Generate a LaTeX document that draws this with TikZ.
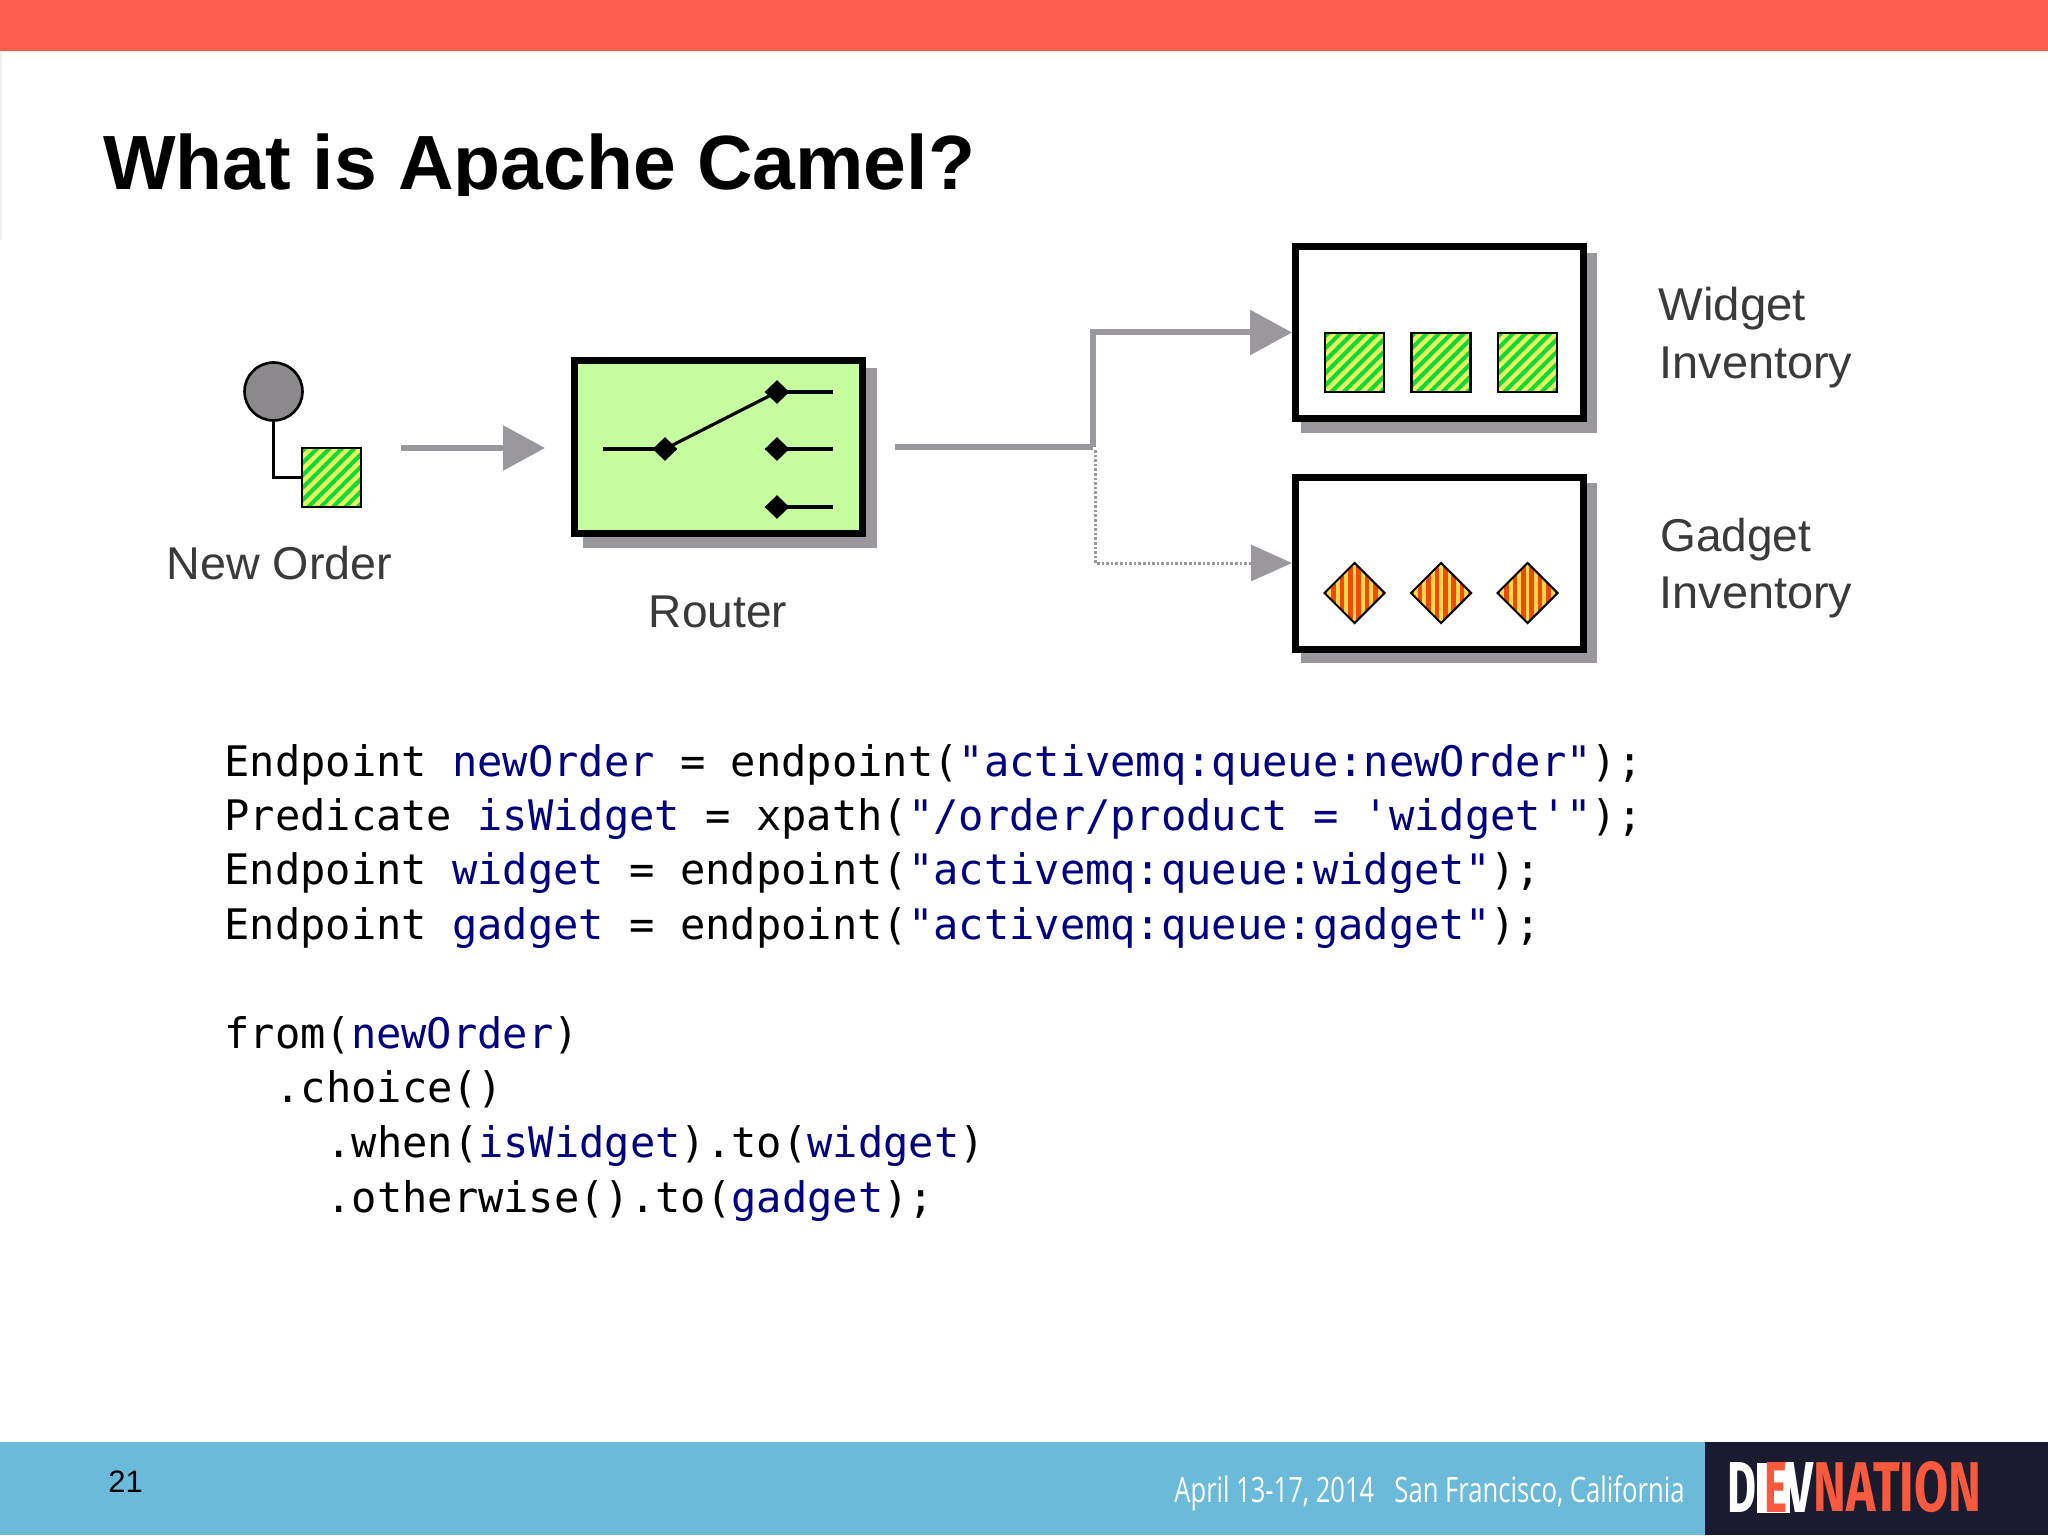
\documentclass[tikz,border=0pt]{standalone}
\usepackage{fontspec}
\usetikzlibrary{arrows.meta,shapes.geometric,calc}
\setmainfont{Liberation Sans}
\newfontfamily\codefont{DejaVu Sans Mono}
\newfontfamily\footfont{Open Sans}
\newfontfamily\logofont{Fira Sans}[UprightFont=* Bold]
\definecolor{topred}{HTML}{FE5E4D}
\definecolor{footblue}{HTML}{6CBAD9}
\definecolor{footdark}{HTML}{1B1B30}
\definecolor{logored}{HTML}{F9593C}
\definecolor{flowgray}{HTML}{9A989C}
\definecolor{routergreen}{HTML}{C6FE9F}
\definecolor{codeblue}{HTML}{000080}
\definecolor{stripegreen}{HTML}{10D83C}
\definecolor{stripeyellow}{HTML}{E4F85C}
\definecolor{stripered}{HTML}{EE4A08}
\definecolor{stripegold}{HTML}{FFD84A}
\definecolor{labelgray}{HTML}{3A3A3A}
\newcommand{\cw}[1]{\textcolor{codeblue}{#1}}
\tikzset{
  x=0.5pt,y=-0.5pt,
  framebox/.style={rectangle,draw=black,line width=3.5pt,inner sep=0pt,minimum width=143.75pt,minimum height=86pt,fill=white},
  greenbox/.style={rectangle,draw=black,line width=1.2pt,inner sep=0pt,minimum size=29.5pt,fill=stripegreen,
    path picture={\foreach \i in {-6,...,6}
      \draw[stripeyellow,line width=2.2pt]
        ($(path picture bounding box.center)+(\i*6.2pt-25pt,-25pt)$) -- ++(50pt,50pt);}},
  gembox/.style={diamond,draw=black,line width=1pt,inner sep=0pt,minimum width=30.5pt,minimum height=30.5pt,aspect=1,fill=stripered,
    path picture={\foreach \i in {-3,...,3}
      \draw[stripegold,line width=1.9pt]
        ($(path picture bounding box.center)+(\i*4.2pt,-20pt)$) -- ++(0pt,40pt);}},
  junction/.style={diamond,fill=black,inner sep=0pt,minimum width=12.5pt,minimum height=12pt,aspect=1},
  wire/.style={draw=black,line width=1.6pt},
  flow/.style={draw=flowgray,line width=3pt,-{Triangle[length=21pt,width=22pt]}},
  branch/.style={draw=flowgray,line width=3pt},
  dotflow/.style={draw=flowgray,line width=1.5pt,dash pattern=on 1.3pt off 1pt,-{Triangle[length=20.5pt,width=18pt]}},
  shade/.style={fill=flowgray},
  label/.style={inner sep=0pt,anchor=base west,text=labelgray,font=\fontsize{23}{23}\selectfont},
  code/.style={inner sep=0pt,anchor=base west,font=\codefont\fontsize{21.03}{24}\selectfont},
}
\begin{document}
\begin{tikzpicture}
\useasboundingbox (0,0) rectangle (2048,1535);
\fill[white] (0,0) rectangle (2048,1535);
% bands
\fill[topred] (0,0) rectangle (2048,51);
\fill[black!6] (0,51) rectangle (2,240);
\fill[footblue] (0,1442) rectangle (2048,1535);
\fill[footdark] (1705,1442) rectangle (2048,1535);
% title, cut off at its lower edge as in the slide
\begin{scope}
\clip (0,60) rectangle (2048,196);
\node[inner sep=0pt,anchor=base west,font=\bfseries\fontsize{38.45}{40}\selectfont] (title) at (103,190) {What is Apache Camel?};
\end{scope}
% shadows
\fill[shade] (583,368) rectangle (877,548);
\fill[shade] (1301,253) rectangle (1597,433);
\fill[shade] (1301,483) rectangle (1597,663);
% new order
\node[circle,draw=black,line width=1.3pt,fill=flowgray!90!black,inner sep=0pt,minimum size=29pt] (dot) at (273.5,391.5) {};
\node[greenbox] (order) at (331.5,477.5) {};
\draw[wire] (dot.south) |- (order.west);
\node[label] (neworder) at (166,579) {\scalebox{1.015}[1]{New Order}};
% router
\node[framebox,fill=routergreen,minimum width=144pt,minimum height=86.5pt] (router) at (718.5,447) {};
\node[junction] (jin) at (665,449) {};
\node[junction] (jtop) at (777,392) {};
\node[junction] (jmid) at (777,449) {};
\node[junction] (jbot) at (777,507) {};
\coordinate (inend) at (603,449);
\coordinate (topend) at (833,392);
\coordinate (midend) at (833,449);
\coordinate (botend) at (833,507);
\draw[wire] (inend) -- (jin.center);
\draw[wire] (jin.center) -- (jtop.center);
\draw[wire] (jtop.center) -- (topend);
\draw[wire] (jmid.center) -- (midend);
\draw[wire] (jbot.center) -- (botend);
\node[label,anchor=base] (routerlabel) at (718,627) {Router};
% inventories
\node[framebox] (widget) at (1439.25,332.5) {};
\node[framebox] (gadget) at (1439.25,563) {};
\node[greenbox] (w1) at (1354.5,362.5) {};
\node[greenbox] (w2) at (1441,362.5) {};
\node[greenbox] (w3) at (1527.5,362.5) {};
\node[gembox] (g1) at (1354.5,593) {};
\node[gembox] (g2) at (1441,593) {};
\node[gembox] (g3) at (1527.5,593) {};
\node[label] (l1) at (1658,321) {\scalebox{1.03}[1]{Widget}};
\node[label] (l2) at (1659,379) {\scalebox{1.02}[1]{Inventory}};
\node[label] (l3) at (1660,551) {Gadget};
\node[label] (l4) at (1659,608) {\scalebox{1.02}[1]{Inventory}};
% connectors
\coordinate (flowstart) at (401,448);
\coordinate (routerout) at (895,447);
\coordinate (bend) at (1093,447);
\draw[flow,shorten >=13pt] (flowstart) -- (router.west |- flowstart);
\draw[branch] (routerout) -- (bend);
\draw[flow] (bend) |- (widget.west);
\draw[dotflow] ($(bend)+(2,3)$) |- (gadget.west);
% code
\node[code] (c1) at (224,776) {Endpoint \cw{newOrder} = endpoint(\cw{"activemq:queue:newOrder"});};
\node[code] (c2) at (224,830.4) {Predicate \cw{isWidget} = xpath(\cw{"/order/product = 'widget'"});};
\node[code] (c3) at (224,884.8) {Endpoint \cw{widget} = endpoint(\cw{"activemq:queue:widget"});};
\node[code] (c4) at (224,939.2) {Endpoint \cw{gadget} = endpoint(\cw{"activemq:queue:gadget"});};
\node[code] (c5) at (224,1048) {from(\cw{newOrder})};
\node[code] (c6) at (275,1102.8) {.choice()};
\node[code] (c7) at (326,1157.6) {.when(\cw{isWidget}).to(\cw{widget})};
\node[code] (c8) at (326,1212) {.otherwise().to(\cw{gadget});};
% footer
\node[inner sep=0pt,anchor=base west,font=\fontsize{15.5}{16}\selectfont] (page) at (108,1492) {21};
\node[inner sep=0pt,anchor=base west,text=white,font=\footfont\fontsize{17.5}{18}\selectfont] (dates) at (1174,1502) {\scalebox{0.73}[1]{April 13-17, 2014}};
\node[inner sep=0pt,anchor=base west,text=white,font=\footfont\fontsize{17.5}{18}\selectfont] (place) at (1394,1502) {\scalebox{0.733}[1]{San Francisco, California}};
% logo
\fill[white] (1757,1463) rectangle (1790,1513);
\node[inner sep=0pt,anchor=south west,text=white,font=\logofont] (logod) at (1727,1513) {\resizebox{14.5pt}{25pt}{D}};
\node[inner sep=0pt,anchor=south west,text=logored,font=\logofont] (logoe) at (1764,1513) {\resizebox{11.5pt}{25pt}{E}};
\node[inner sep=0pt,anchor=south west,text=white,font=\logofont] (logov) at (1786,1513) {\resizebox{13.5pt}{25pt}{V}};
\node[inner sep=0pt,anchor=south west,text=logored,font=\logofont] (logon) at (1813,1513) {\resizebox{84pt}{25pt}{NATION}};
\end{tikzpicture}
\end{document}
